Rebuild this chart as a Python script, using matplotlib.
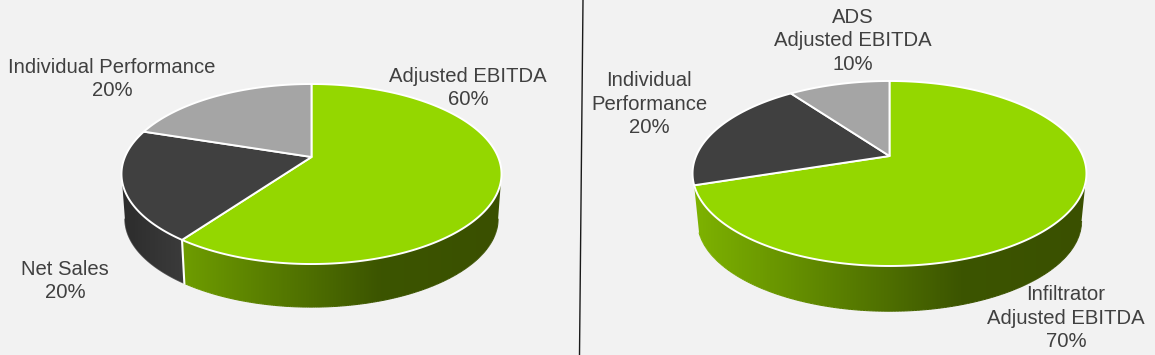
import numpy as np
import matplotlib
matplotlib.use('Agg')
import matplotlib.pyplot as plt
from matplotlib.collections import LineCollection
from matplotlib.colors import LinearSegmentedColormap
from matplotlib.patches import Polygon

left_labels = ['Adjusted EBITDA\n60%', 'Net Sales\n20%', 'Individual Performance\n20%']
left_values = [60, 20, 20]
right_labels = ['Infiltrator\nAdjusted EBITDA\n70%', 'Individual\nPerformance\n20%', 'ADS\nAdjusted EBITDA\n10%']
right_values = [70, 20, 10]

top_colors = ['#94D700', '#404040', '#A5A5A5']
wall_stops = [[(0, '#7EB300'), (0.68, '#3C5500'), (1, '#3A5000')],
              [(0, '#2C2C2C'), (0.17, '#3C3C3C'), (1, '#404040')],
              [(0, '#7A7A7A'), (1, '#7A7A7A')]]

plt.rcParams['font.family'] = ['Liberation Sans', 'DejaVu Sans']
BG = '#F2F2F2'
TXT = '#404040'
K = 0.189

fig = plt.figure(figsize=(11.55, 3.55), dpi=100, facecolor=BG)
ax = fig.add_axes([0, 0, 1, 1])
ax.set_axis_off()


# perspective projection of a point on the pie rim
def rim(t, cx, cy, b, a, s=1.0, dy=0.0):
    u = np.sin(t)
    v = np.cos(t)
    d = 1 + K * v
    return np.column_stack([cx + s * b * u / d, cy + dy - s * a * v / d])


def pie3d(values, cx, cy, b, a, dy, s):
    edges = np.cumsum([0] + list(values)) / sum(values) * 2 * np.pi
    # only the front of the wall shows, between the two silhouette points
    front0 = np.arccos(-K)
    front1 = 2 * np.pi - front0
    half = b / np.sqrt(1 - K ** 2)
    for i in range(len(values)):
        t0 = max(edges[i], front0)
        t1 = min(edges[i + 1], front1)
        if t1 - t0 < np.radians(10):
            continue
        t = np.linspace(t0, t1, 200)
        top = rim(t, cx, cy, b, a)
        bot = rim(t, cx, cy, b, a, s=s, dy=dy)
        pts = np.vstack([top, bot[::-1]])
        cm = LinearSegmentedColormap.from_list('w', wall_stops[i])
        y0, y1 = pts[:, 1].min(), pts[:, 1].max()
        im = ax.imshow(np.linspace(0, 1, 400).reshape(1, -1),
                       extent=[cx - half, cx + half, y1, y0], cmap=cm, aspect='auto',
                       zorder=1, interpolation='bilinear', vmin=0, vmax=1)
        p = Polygon(pts, closed=True, fc='none', ec='none')
        ax.add_patch(p)
        im.set_clip_path(p)
        # soft lower edge, same gradient as the wall
        segs = np.stack([bot[:-1], bot[1:]], axis=1)
        lc = LineCollection(segs, colors=cm((bot[:-1, 0] - (cx - half)) / (2 * half)),
                            linewidths=0.8, zorder=1.5)
        ax.add_collection(lc)
        # divider where this wall ends
        if edges[i + 1] < front1 - np.radians(10):
            pa = rim(edges[i + 1], cx, cy, b, a)[0]
            pb = rim(edges[i + 1], cx, cy, b, a, s=s, dy=dy)[0]
            ax.plot([pa[0], pb[0]], [pa[1], pb[1]], color='white', lw=1.5, zorder=2)
    # top face
    for i in range(len(values)):
        t = np.linspace(edges[i], edges[i + 1], 200)
        pts = np.vstack([[cx, cy], rim(t, cx, cy, b, a)])
        ax.add_patch(Polygon(pts, closed=True, fc=top_colors[i], ec='white', lw=1.4,
                             joinstyle='round', zorder=3))


pie3d(left_values, 311.5, 157, 186.6, 86.8, 45, 0.982)
pie3d(right_values, 889.5, 156, 193.4, 89.2, 48, 0.975)

# vertical rule between the two charts
ax.plot([583, 579.5], [0, 355], color='#1A1A1A', lw=1.0, zorder=4)

left_pos = [(468, 88), (65, 281), (112, 79)]
right_pos = [(1066, 318), (649, 104), (853, 41)]
for lab, pos in zip(left_labels + right_labels, left_pos + right_pos):
    ax.text(pos[0], pos[1], lab, ha='center', va='center', fontsize=14.55, color=TXT,
            linespacing=1.32, zorder=5)

ax.set_xlim(0, 1155)
ax.set_ylim(355, 0)
fig.savefig('out.png', dpi=100, facecolor=BG)
